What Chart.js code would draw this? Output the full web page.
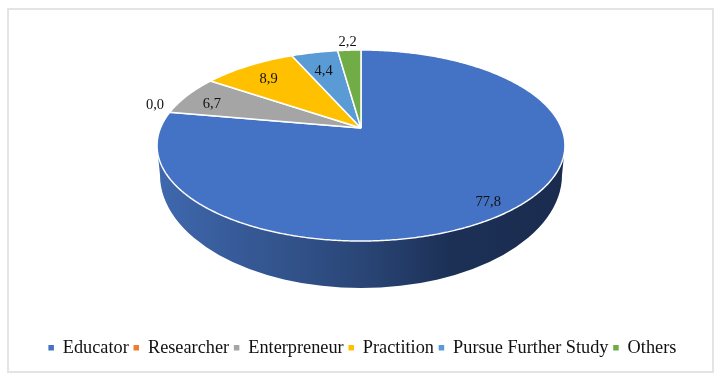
<!DOCTYPE html>
<html lang="en">
<head>
<meta charset="UTF-8">
<title>Career pie</title>
<script src="https://cdn.jsdelivr.net/npm/chart.js@4"></script>
<style>
    html, body { margin: 0; padding: 0; background: #fff; }
    #frame { position: absolute; left: 7px; top: 8px; width: 703px; height: 361px; border: 2px solid #e4e4e4; }
    canvas { position: absolute; left: 0; top: 0; }
</style>
</head>
<body>
<div id="frame"></div>
<canvas id="pie" width="720" height="379"></canvas>
<script>
const categories = ['Educator', 'Researcher', 'Enterpreneur', 'Practition', 'Pursue Further Study', 'Others'];
const values = [77.8, 0, 6.7, 8.9, 4.4, 2.2];
const valueLabels = ['77,8', '0,0', '6,7', '8,9', '4,4', '2,2'];
const colors = ['#4472C4', '#ED7D31', '#A5A5A5', '#FFC000', '#5B9BD5', '#70AD47'];

// perspective of the disc: apex position, radii and foreshortening
const view = { cx: 361, cy: 128, rx: 200.5, ry: 92.3, k: 0.1832 };
// radial position of each label and a small nudge, same order as categories
const labelPlace = [[0.88, -2, 3], [1.08, 0, -6], [0.85, 0, 4], [0.85, 5, 5], [0.8, 1, 5], [1.17, 0, 3]];

function project(u, v) {
    const d = 1 - view.k * v;
    return [view.cx + view.rx * u / d, view.cy + view.ry * v / d];
}

// side wall of the cylinder, under the top face
function drawWall(ctx) {
    const topY = view.cy + 17.5;
    const botY = view.cy + 47;
    const grad = ctx.createLinearGradient(view.cx - 204, 0, view.cx + 204, 0);
    grad.addColorStop(0, '#3F68AE');
    grad.addColorStop(0.5, '#2A4677');
    grad.addColorStop(0.72, '#1C3056');
    grad.addColorStop(1, '#1A2B4E');
    ctx.save();
    ctx.beginPath();
    ctx.moveTo(view.cx - 204, topY);
    ctx.lineTo(view.cx - 201, botY);
    ctx.ellipse(view.cx, botY, 201, 113, 0, Math.PI, 0, true);
    ctx.lineTo(view.cx + 204, topY);
    ctx.closePath();
    ctx.fillStyle = grad;
    ctx.fill();
    ctx.restore();
}

const piePerspective = {
    id: 'piePerspective',
    beforeDatasetsDraw(chart) {
        const ctx = chart.ctx;
        const first = chart.getDatasetMeta(0).data[0];
        drawWall(ctx);
        const ox = first.x, oy = first.y, R = first.outerRadius;
        const toScreen = (x, y) => project((x - ox) / R, (y - oy) / R);
        const moveTo = CanvasRenderingContext2D.prototype.moveTo;
        const lineTo = CanvasRenderingContext2D.prototype.lineTo;
        ctx.moveTo = (x, y) => moveTo.call(ctx, ...toScreen(x, y));
        ctx.lineTo = (x, y) => lineTo.call(ctx, ...toScreen(x, y));
        ctx.arc = (x, y, r, a0, a1, ccw) => {
            let sweep = a1 - a0;
            if (ccw && sweep > 0) sweep -= Math.PI * 2;
            const n = Math.max(2, Math.ceil(Math.abs(sweep) / 0.01));
            for (let i = 0; i <= n; i++) {
                const a = a0 + sweep * i / n;
                lineTo.call(ctx, ...toScreen(x + r * Math.cos(a), y + r * Math.sin(a)));
            }
        };
    },
    afterDatasetsDraw(chart) {
        const ctx = chart.ctx;
        delete ctx.moveTo;
        delete ctx.lineTo;
        delete ctx.arc;
        ctx.save();
        ctx.font = '14.5px "Liberation Serif"';
        ctx.fillStyle = '#111111';
        ctx.textAlign = 'center';
        ctx.textBaseline = 'middle';
        chart.getDatasetMeta(0).data.forEach((arc, i) => {
            const mid = (arc.startAngle + arc.endAngle) / 2;
            const [r, dx, dy] = labelPlace[i];
            const [x, y] = project(r * Math.cos(mid), r * Math.sin(mid));
            ctx.fillText(valueLabels[i], x + dx, y + dy);
        });
        ctx.restore();
    }
};

new Chart(document.getElementById('pie'), {
    type: 'pie',
    data: {
        labels: categories,
        datasets: [{
            data: values,
            backgroundColor: colors,
            borderColor: '#ffffff',
            borderWidth: 1.5,
            clip: false
        }]
    },
    options: {
        responsive: false,
        animation: false,
        layout: { padding: { bottom: 12, left: 5 } },
        plugins: {
            tooltip: { enabled: false },
            legend: {
                position: 'bottom',
                labels: {
                    usePointStyle: true,
                    pointStyle: 'rect',
                    boxWidth: 5,
                    boxHeight: 7,
                    padding: 5,
                    color: '#111111',
                    font: { family: '"Liberation Serif"', size: 18.3 }
                }
            }
        }
    },
    plugins: [piePerspective]
});
</script>
</body>
</html>
